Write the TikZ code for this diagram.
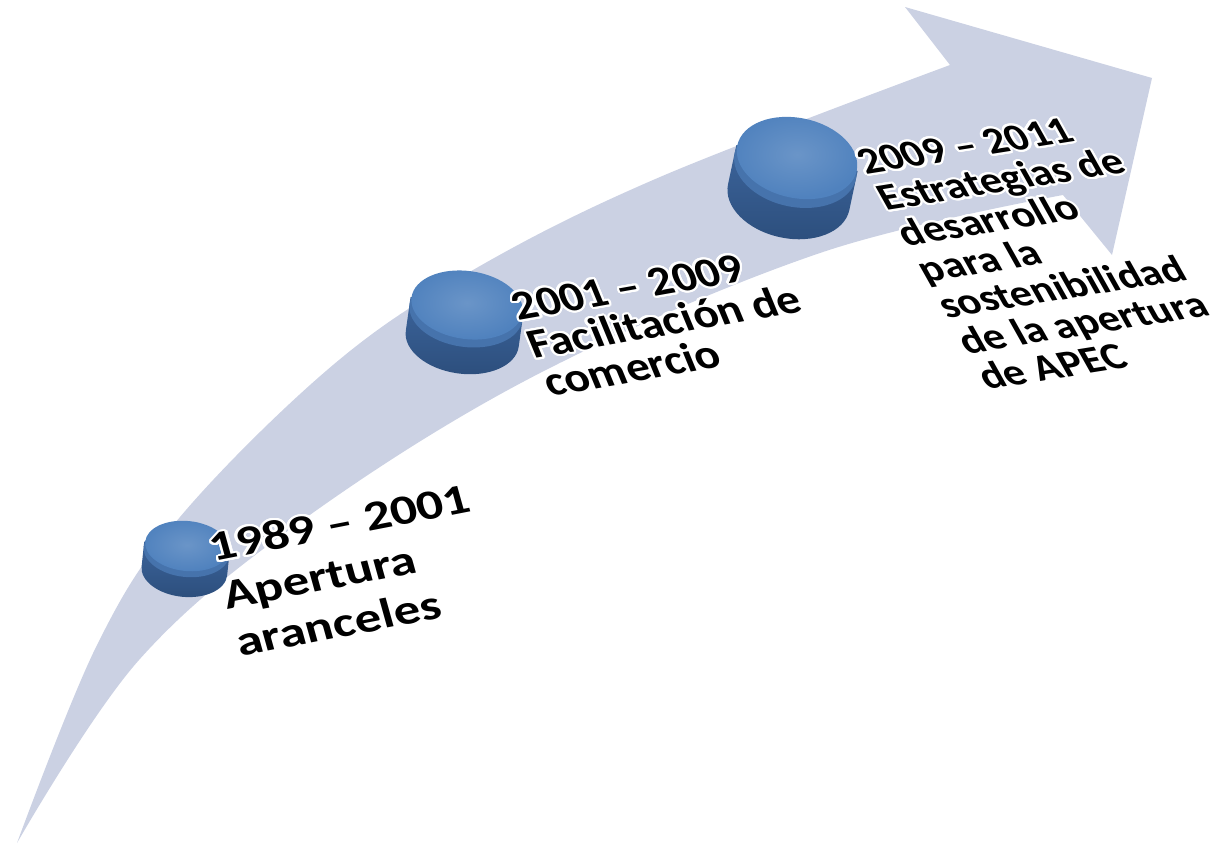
\documentclass[tikz,border=0pt]{standalone}
\usepackage{fontspec}
\setmainfont{Carlito}
\usepackage{contour}
\contourlength{1.2pt}
\contournumber{24}
\usetikzlibrary{calc}

\definecolor{bandgray}{RGB}{203,209,227}
\definecolor{disctop}{RGB}{80,130,190}
\definecolor{discrim}{RGB}{70,115,172}
\definecolor{discside}{RGB}{60,100,155}
\definecolor{discdark}{RGB}{44,78,124}

\newcommand{\glow}[1]{\contour{white}{#1}}

\begin{document}
\begin{tikzpicture}[x=0.02cm, y=0.02cm,
  stagetext/.style={anchor=base west, inner sep=0pt, align=left},
  side/.style={top color=discside, bottom color=discdark},
  rim/.style={fill=discrim},
  face/.style={inner color=disctop!85!white, outer color=disctop}]
\useasboundingbox (0,0) rectangle (1223,-845);

% the curved arrow
\fill[bandgray] plot[smooth, tension=0.6] coordinates {(17,-843) (97,-645) (180,-517) (333,-365) (473,-270) (660,-177) (950,-65)}
  -- (905,-7) -- (1152,-78) -- (1112,-255) -- (1063,-195)
  -- plot[smooth, tension=0.6] coordinates {(1063,-195) (820,-253) (540,-373) (307,-517) (139,-660) (17,-843)}
  -- cycle;

% disc 1
\begin{scope}[shift={(187,-546)}, rotate=-6]
\shade[side] (-43,0) -- (-43,-25) arc[start angle=180, end angle=360, x radius=43, y radius=26] -- (43,0) -- cycle;
\fill[rim] (0,-5) ellipse [x radius=43, y radius=26];
\shade[face] (0,0) ellipse [x radius=42, y radius=25];
\end{scope}

% disc 2
\begin{scope}[shift={(467,-305)}, rotate=-8]
\shade[side] (-57,0) -- (-57,-34) arc[start angle=180, end angle=360, x radius=57, y radius=35] -- (57,0) -- cycle;
\fill[rim] (0,-7) ellipse [x radius=57, y radius=35];
\shade[face] (0,0) ellipse [x radius=56, y radius=34];
\end{scope}

% disc 3
\begin{scope}[shift={(797,-158)}, rotate=-12]
\shade[side] (-62,0) -- (-62,-40) arc[start angle=180, end angle=360, x radius=62, y radius=41] -- (62,0) -- cycle;
\fill[rim] (0,-8) ellipse [x radius=62, y radius=41];
\shade[face] (0,0) ellipse [x radius=61, y radius=40];
\end{scope}

% labels (anchored at the start of the last line)
\node[stagetext, font=\bfseries\fontsize{24}{28}\selectfont, rotate=11, xslant=-0.08, xscale=1.25] (stage1) at (240,-657)
  {\glow{1989 -- 2001}\\\glow{Apertura}\\\glow{aranceles}};
\node[stagetext, font=\bfseries\fontsize{24}{23}\selectfont, rotate=10, xslant=-0.22, xscale=1.1] (stage2) at (550,-397)
  {\glow{2001 -- 2009}\\\glow{Facilitación de}\\\glow{comercio}};
\node[stagetext, font=\bfseries\fontsize{22}{22}\selectfont, rotate=9, xslant=-0.37, xscale=1.1] (stage3) at (987,-390)
  {\glow{2009 -- 2011}\\\glow{Estrategias de}\\\glow{desarrollo}\\\glow{para la}\\\glow{sostenibilidad}\\\glow{de la apertura}\\\glow{de APEC}};
\end{tikzpicture}
\end{document}
